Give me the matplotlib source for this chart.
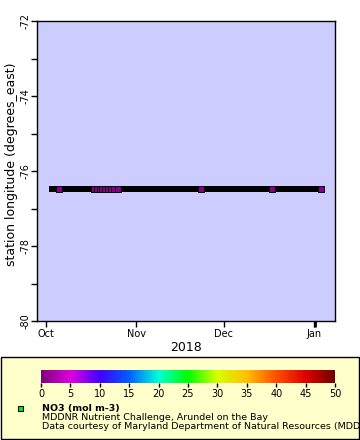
import numpy as np
import pandas as pd
import matplotlib
matplotlib.use("Agg")
import matplotlib.pyplot as plt
import matplotlib.dates as mdates
from matplotlib.colors import LinearSegmentedColormap
from matplotlib.patches import Rectangle

# ---- data ----
station_lon = -76.47
# dense record sampling (continuous series drawn in black)
record_start = "2018-10-03 04:00"
record_end = "2019-01-03 08:00"
record_freq = "3h"
# highlighted NO3 samples (colored by value)
no3_times = ["2018-10-05 12:00", "2018-10-17 16:00", "2018-10-18 16:00",
             "2018-10-19 12:00", "2018-10-20 08:00", "2018-10-21 08:00",
             "2018-10-22 08:00", "2018-10-23 12:00", "2018-10-24 12:00",
             "2018-10-25 16:00", "2018-11-23 02:00", "2018-12-17 14:00",
             "2019-01-03 08:00"]
no3_values = [0.4, 0.4, 0.4, 0.4, 0.4, 0.4, 0.4, 0.4, 0.4, 0.4, 0.4, 0.4, 0.4]
cbar_ticks = [0, 5, 10, 15, 20, 25, 30, 35, 40, 45, 50]
legend_lines = ["NO3 (mol m-3)",
                "MDDNR Nutrient Challenge, Arundel on the Bay",
                "Data courtesy of Maryland Department of Natural Resources (MDDNR)"]

cmap = LinearSegmentedColormap.from_list("rainbow2", [
    (0.0, "#800080"), (0.1, "#e000e0"), (0.2, "#4000ff"), (0.3, "#0060ff"),
    (0.4, "#00ffd8"), (0.5, "#00ff00"), (0.6, "#d8ff00"), (0.7, "#ffc000"),
    (0.8, "#ff5000"), (0.9, "#e00000"), (1.0, "#700000")])

W, H = 360, 440
fig = plt.figure(figsize=(W / 100, H / 100), dpi=100)
fig.patch.set_facecolor("white")

def fx(px):
    return px / W

def fy(py):
    return 1 - py / H

ax = fig.add_axes([fx(37), fy(321), fx(335) - fx(37), fy(21) - fy(321)])
ax.set_facecolor("#ccccff")

rec_t = pd.date_range(record_start, record_end, freq=record_freq)
ax.plot(rec_t, np.full(len(rec_t), station_lon), linestyle="none", marker="s",
        markersize=4.3, color="black", markeredgewidth=0)
t = pd.to_datetime(no3_times)
ax.scatter(t, np.full(len(t), station_lon), c=no3_values, cmap=cmap, vmin=0, vmax=50,
           marker="s", s=4.3 ** 2, edgecolors="black", linewidths=0.7, zorder=3)

ax.set_xlim(pd.Timestamp("2018-09-28 00:00"), pd.Timestamp("2019-01-08 02:00"))
ax.set_ylim(-80, -72)
ax.set_yticks(np.arange(-80, -71, 2))
ax.set_yticks(np.arange(-80, -71, 1), minor=True)
ax.set_yticklabels([str(v) for v in range(-80, -71, 2)], rotation=90, va="center")
ax.xaxis.set_major_locator(mdates.MonthLocator())
ax.xaxis.set_major_formatter(mdates.DateFormatter("%b"))
ax.set_xticks([mdates.date2num(pd.Timestamp("2019-01-01 08:00"))], minor=True)
ax.tick_params(axis="both", which="both", direction="out", length=4, width=1,
               labelsize=7, pad=2)
ax.tick_params(axis="y", which="major", pad=0.5)
ax.tick_params(axis="x", which="minor", length=4, width=2)
ax.set_xlabel("2018", fontsize=9)
ax.xaxis.set_label_coords(0.5, -0.067)
ax.set_ylabel("station longitude (degrees_east)", fontsize=9)
ax.yaxis.set_label_coords(-0.063, 0.523)
for s in ax.spines.values():
    s.set_linewidth(1)

# legend box
fig.add_artist(Rectangle((fx(0.5), fy(438.5)), fx(359) - fx(0.5), fy(357) - fy(438.5),
                         transform=fig.transFigure, facecolor="#ffffcc",
                         edgecolor="black", linewidth=1, zorder=-2))

cax = fig.add_axes([fx(41), fy(383), fx(335) - fx(41), fy(370) - fy(383)])
grad = np.linspace(0, 50, 512).reshape(1, -1)
cax.imshow(grad, aspect="auto", cmap=cmap, extent=[0, 50, 0, 1], vmin=0, vmax=50)
cax.set_xlim(0, 50)
cax.set_yticks([])
cax.set_xticks(cbar_ticks)
cax.tick_params(axis="x", direction="out", length=3, width=1, labelsize=7, pad=1)
for s in cax.spines.values():
    s.set_visible(False)

fig.add_artist(Rectangle((fx(17.5), fy(411)), fx(5), fy(406) - fy(411),
                         transform=fig.transFigure, facecolor="#00ee00",
                         edgecolor="black", linewidth=0.8))
fig.text(fx(42.5), fy(408.5), legend_lines[0], fontsize=6.8, fontweight="bold",
         ha="left", va="center")
fig.text(fx(42.5), fy(417.5), legend_lines[1], fontsize=6.8, ha="left", va="center")
fig.text(fx(42.5), fy(426.5), legend_lines[2], fontsize=6.8, ha="left", va="center")

fig.savefig("out.png", dpi=100)
